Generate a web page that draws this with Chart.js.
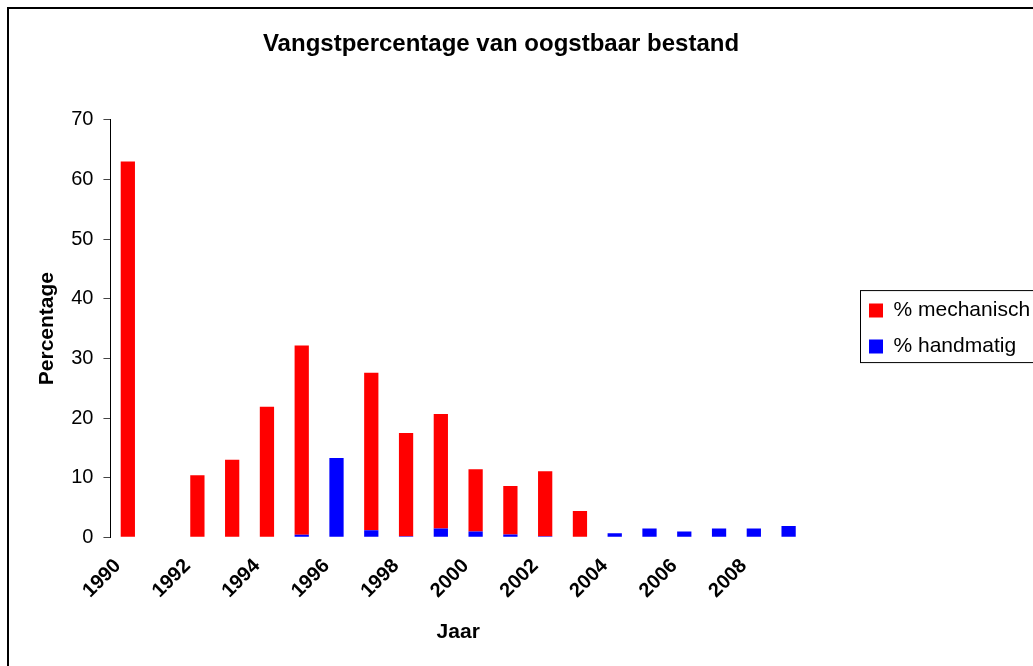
<!DOCTYPE html>
<html>
<head>
<meta charset="utf-8">
<script src="https://cdn.jsdelivr.net/npm/chart.js@4.4.1/dist/chart.umd.min.js"></script>
<style>
  html, body { margin: 0; padding: 0; background: #fff; overflow: hidden; }
  canvas { display: block; }
</style>
</head>
<body>
<canvas id="chart" width="1033" height="666"></canvas>
<script>
const years = ["1990", "1991", "1992", "1993", "1994", "1995", "1996", "1997", "1998", "1999",
  "2000", "2001", "2002", "2003", "2004", "2005", "2006", "2007", "2008", "2009"];
const mechanisch = [63, 0, 10.4, 13, 21.9, 31.7, 0, 26.4, 17.3, 19.2, 10.4, 8.1, 10.9, 4.4, 0, 0, 0, 0, 0, 0];
const handmatig = [0, 0, 0, 0, 0, 0.45, 13.3, 1.2, 0.2, 1.5, 1.0, 0.5, 0.2, 0, 0.7, 1.5, 1.0, 1.5, 1.5, 1.9];
const yTicks = [0, 10, 20, 30, 40, 50, 60, 70];

const FONT = "'Liberation Sans', Arial, sans-serif";

// rand om de hele grafiek en om de legenda
const borders = {
  id: "borders",
  afterLayout(chart) {
    // legenda loopt door tot voorbij de rand, net als in het origineel
    const lg = chart.legend;
    lg.right = chart.width + 60;
    lg.width = lg.right - lg.left;
  },
  beforeDraw(chart) {
    const ctx = chart.ctx;
    ctx.save();
    ctx.fillStyle = "#fff";
    ctx.fillRect(0, 0, chart.width, chart.height);
    ctx.strokeStyle = "#000";
    ctx.lineWidth = 2;
    ctx.strokeRect(8, 8, chart.width + 50, chart.height + 50);
    ctx.restore();
  },
  afterDraw(chart) {
    const hb = chart.legend.legendHitBoxes;
    if (!hb || !hb.length) return;
    const last = hb[hb.length - 1];
    const ctx = chart.ctx;
    ctx.save();
    ctx.strokeStyle = "#000";
    ctx.lineWidth = 1;
    ctx.strokeRect(hb[0].left - 8.5, hb[0].top - 9.5, 300, last.top + last.height - hb[0].top + 15);
    ctx.restore();
  }
};

new Chart(document.getElementById("chart"), {
  type: "bar",
  data: {
    labels: years,
    datasets: [
      { label: "% handmatig", data: handmatig, backgroundColor: "#0000FF", borderWidth: 0 },
      { label: "% mechanisch", data: mechanisch, backgroundColor: "#FF0000", borderWidth: 0 }
    ]
  },
  options: {
    responsive: false,
    animation: false,
    layout: { padding: { left: 22, right: 53, top: 8, bottom: 8 } },
    datasets: { bar: { categoryPercentage: 1, barPercentage: 0.41 } },
    plugins: {
      title: {
        display: true,
        text: "Vangstpercentage van oogstbaar bestand",
        color: "#000",
        font: { family: FONT, size: 24, weight: "bold" },
        padding: { top: 22, bottom: 61 }
      },
      legend: {
        position: "right",
        fullSize: false,
        reverse: true,
        maxWidth: 126,
        labels: {
          color: "#000",
          font: { family: FONT, size: 21 },
          boxWidth: 14,
          boxHeight: 14,
          padding: 15
        }
      },
      tooltip: { enabled: false }
    },
    scales: {
      x: {
        stacked: true,
        grid: { display: false },
        border: { display: false },
        ticks: {
          autoSkip: false,
          maxRotation: 45,
          minRotation: 45,
          color: "#000",
          padding: 9,
          labelOffset: -10,
          font: { family: FONT, size: 20, weight: "bold" },
          callback: (v, i) => (i % 2 === 0 ? years[i] : "")
        },
        title: {
          display: true,
          text: "Jaar",
          color: "#000",
          font: { family: FONT, size: 21, weight: "bold" },
          padding: { top: 8, bottom: 13 }
        }
      },
      y: {
        stacked: true,
        min: yTicks[0],
        max: yTicks[yTicks.length - 1],
        grid: { drawOnChartArea: false, drawTicks: true, tickLength: 7, color: "#444" },
        border: { display: true, color: "#000", width: 1 },
        afterBuildTicks: s => { s.ticks = yTicks.map(v => ({ value: v })); },
        ticks: {
          color: "#000",
          padding: 10,
          font: { family: FONT, size: 20 }
        },
        title: {
          display: true,
          text: "Percentage",
          color: "#000",
          font: { family: FONT, size: 21, weight: "bold" },
          padding: { top: 13, bottom: 1 }
        }
      },
      spacer: {
        type: "linear",
        position: "right",
        grid: { display: false },
        border: { display: false },
        ticks: { display: false },
        afterFit: s => { s.width = 48; }
      }
    }
  },
  plugins: [borders]
});
</script>
</body>
</html>
